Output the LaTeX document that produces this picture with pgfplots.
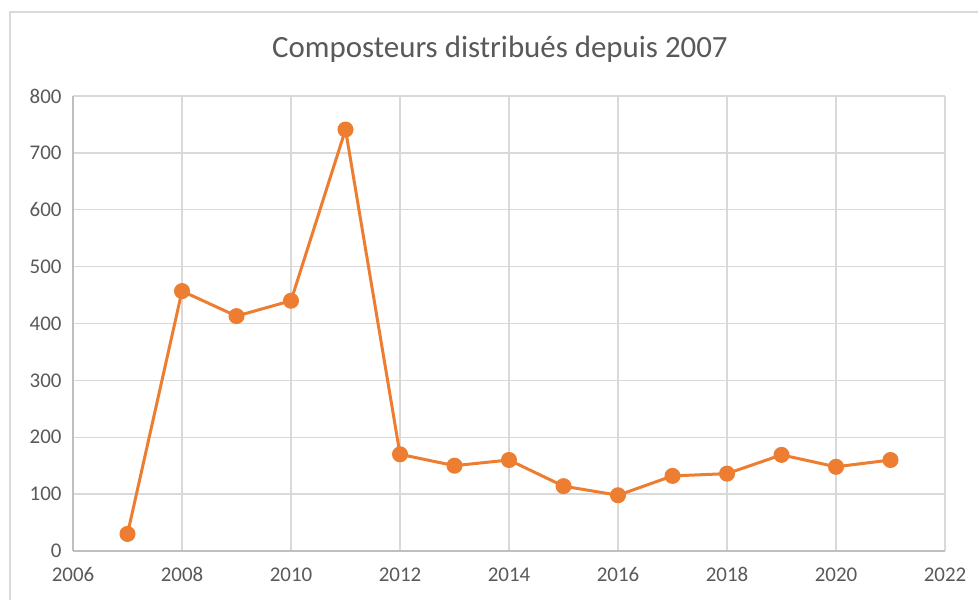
\documentclass[border=0pt]{standalone}
\usepackage{fontspec}
\setmainfont{Carlito}
\usepackage{pgfplots}
\pgfplotsset{compat=1.18}
\definecolor{gridc}{HTML}{D9D9D9}
\definecolor{axc}{HTML}{BFBFBF}
\definecolor{txt}{HTML}{595959}
\definecolor{orng}{HTML}{ED7D31}
\begin{document}
\begin{tikzpicture}[x=1bp,y=1bp]
\clip (0,0) rectangle (978,600);
\fill[white] (0,0) rectangle (978,600);
\draw[gridc, line width=1.5bp] (10,588) rectangle (1000,-20);
\node[txt, font=\fontsize{31}{36}\selectfont] at (500,551) {Composteurs distribués depuis 2007};
\begin{axis}[
  at={(73bp,49bp)}, anchor=south west,
  scale only axis, width=872bp, height=455bp,
  xmin=2006, xmax=2022, ymin=0, ymax=800,
  xtick={2006,2008,...,2022}, ytick={0,100,...,800},
  xticklabel style={/pgf/number format/1000 sep={}},
  /pgf/number format/assume math mode=true,
  tick label style={txt, font=\fontsize{21}{24}\selectfont},
  xticklabel style={yshift=-13bp},
  yticklabel style={xshift=-8bp},
  major tick length=0pt,
  grid=major, major grid style={gridc, line width=1.3bp},
  axis line style={axc, line width=1.3bp},
  axis x line*=bottom, axis y line*=left,
  separate axis lines,
  clip=false,
]
\addplot[orng, line width=3bp, mark=*, mark size=6.5bp, mark options={fill=orng, draw=none}] coordinates {
(2007,30) (2008,457) (2009,413) (2010,440) (2011,741) (2012,170) (2013,150) (2014,160) (2015,114) (2016,98) (2017,132) (2018,136) (2019,169) (2020,148) (2021,160)
};
\end{axis}
\end{tikzpicture}
\end{document}
